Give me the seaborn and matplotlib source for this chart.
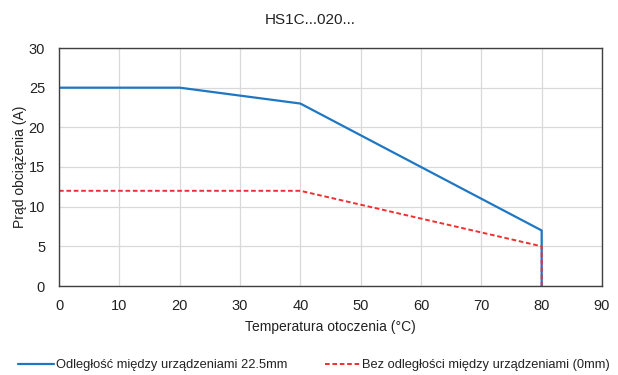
import matplotlib
matplotlib.use("Agg")
import matplotlib.pyplot as plt
import seaborn as sns
import pandas as pd

title = "HS1C...020..."
x_label = "Temperatura otoczenia (°C)"
y_label = "Prąd obciążenia (A)"
s1_name = "Odległość między urządzeniami 22.5mm"
s1_x = [0, 20, 40, 80, 80]
s1_y = [25, 25, 23, 7, 0]
s2_name = "Bez odległości między urządzeniami (0mm)"
s2_x = [0, 40, 80, 80]
s2_y = [12, 12, 5, 0]
x_ticks = [0, 10, 20, 30, 40, 50, 60, 70, 80, 90]
y_ticks = [0, 5, 10, 15, 20, 25, 30]

sns.set_theme(style="whitegrid")
plt.rcParams['font.family'] = ['Liberation Sans', 'DejaVu Sans']

df1 = pd.DataFrame({"x": s1_x, "y": s1_y})
df2 = pd.DataFrame({"x": s2_x, "y": s2_y})

fig = plt.figure(figsize=(6.18, 3.75), dpi=100)
ax = fig.add_axes([59/618, 1-286/375, (602-59)/618, (286-48)/375])

sns.lineplot(data=df1, x="x", y="y", sort=False, estimator=None, ax=ax,
             color="#1f77c4", linewidth=1.6, label=s1_name)
sns.lineplot(data=df2, x="x", y="y", sort=False, estimator=None, ax=ax,
             color="#ee3030", linewidth=1.4, linestyle=(0, (2.4, 1.4)), label=s2_name)

ax.set_xlim(0, 90)
ax.set_ylim(0, 30)
ax.set_xticks(x_ticks)
ax.set_yticks(y_ticks)
ax.tick_params(axis='y', labelsize=10.5, colors="#222222", pad=10, length=0)
ax.tick_params(axis='x', labelsize=10.5, colors="#222222", pad=9, length=0)
ax.grid(True, color="#d9d9d9", linewidth=0.9)
for s in ax.spines.values():
    s.set_color("#404040")
    s.set_linewidth(1.0)
    s.set_visible(True)
ax.set_xlabel("")
ax.set_ylabel("")
fig.text(330/618, 1-327/375, x_label, ha="center", va="center", fontsize=10, color="#222222")
fig.text(20/618, 1-167/375, y_label, ha="center", va="center", rotation=90, fontsize=10, color="#222222")
fig.text(310/618, 1-20/375, title, ha="center", va="center", fontsize=11, color="#222222")

leg = ax.legend(loc="center", bbox_to_anchor=(314/618, 1-365/375), bbox_transform=fig.transFigure,
                ncol=2, frameon=False, fontsize=9.3, handlelength=2.8, handletextpad=0.1,
                columnspacing=2.9, borderaxespad=0, borderpad=0)
for t in leg.get_texts():
    t.set_color("#222222")

fig.savefig("out.png", dpi=100)
